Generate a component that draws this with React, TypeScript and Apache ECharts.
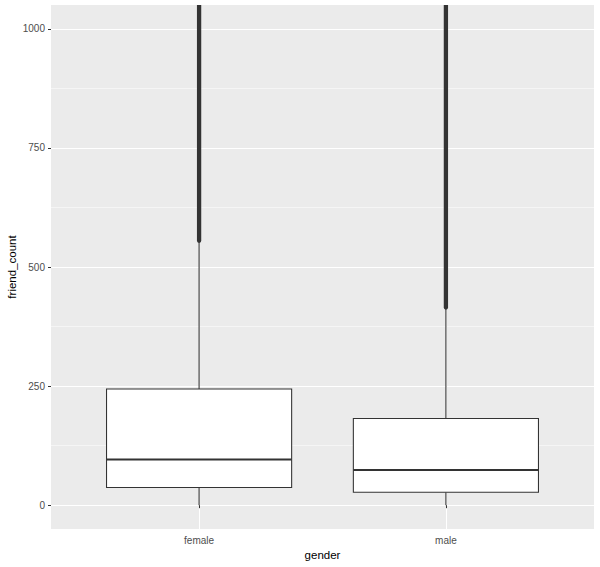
import React, { useEffect, useRef } from "react";
import * as echarts from "echarts";

// Categories and box statistics
const categories = ["female", "male"];
const lowerWhisker = [0, 0];
const q1 = [37, 27];
const median = [96, 74];
const q3 = [244, 182];
const upperWhisker = [554, 414];
// Outliers are dense (every value), drawn as a continuous run
const outlierMin = [555, 415];
const outlierMax = [4923, 4917];

const yMajorTicks = [0, 250, 500, 750, 1000];
const yMinorTicks = [125, 375, 625, 875];
const yMin = -50;
const yMax = 1050;

const FONT = "'Liberation Sans', Arial, sans-serif";

export default function App() {
  const ref = useRef<HTMLDivElement>(null);
  useEffect(() => {
    if (!ref.current) return;
    const chart = echarts.init(ref.current, null, { renderer: "svg" });

    const boxData = categories.map((_, i) => [
      i + 1,
      lowerWhisker[i],
      q1[i],
      median[i],
      q3[i],
      upperWhisker[i],
    ]);
    const outData = categories.map((_, i) => [i + 1, outlierMin[i], outlierMax[i]]);

    const option: any = {
      animation: false,
      backgroundColor: "#FFFFFF",
      grid: {
        left: 51,
        right: 6,
        top: 5,
        bottom: 38,
        containLabel: false,
        outerBoundsMode: "none",
        show: true,
        backgroundColor: "#EBEBEB",
        borderWidth: 0,
      },
      xAxis: {
        type: "value",
        min: 0.4,
        max: 2.6,
        name: "gender",
        nameLocation: "middle",
        nameGap: 20,
        nameMoveOverlap: false,
        nameTextStyle: { color: "#000000", fontSize: 11.5, fontFamily: FONT },
        axisLine: { show: false },
        axisTick: {
          show: true,
          customValues: [1, 2],
          length: 3,
          lineStyle: { color: "#333333", width: 1 },
        },
        axisLabel: {
          customValues: [1, 2],
          formatter: (v: number) => categories[Math.round(v) - 1] ?? "",
          color: "#4D4D4D",
          fontSize: 10,
          fontFamily: FONT,
          margin: 6,
        },
        splitLine: { show: true, lineStyle: { color: "#FFFFFF", width: 1.07 } },
      },
      yAxis: [
        {
          type: "value",
          min: yMin,
          max: yMax,
          name: "friend_count",
          nameLocation: "middle",
          nameGap: 33,
          nameMoveOverlap: false,
          nameTextStyle: { color: "#000000", fontSize: 11.5, fontFamily: FONT },
          axisLine: { show: false },
          axisTick: {
            show: true,
            customValues: yMajorTicks,
            length: 3,
            lineStyle: { color: "#333333", width: 1 },
          },
          axisLabel: {
            customValues: yMajorTicks,
            formatter: (v: number) => String(v),
            color: "#4D4D4D",
            fontSize: 10,
            fontFamily: FONT,
            margin: 6,
          },
          splitLine: { show: true, lineStyle: { color: "#FFFFFF", width: 1.07 } },
        },
        {
          type: "value",
          min: yMin,
          max: yMax,
          position: "left",
          axisLine: { show: false },
          axisTick: { show: false, customValues: yMinorTicks },
          axisLabel: { show: false, customValues: yMinorTicks },
          splitLine: { show: true, lineStyle: { color: "#FFFFFF", width: 0.53 } },
        },
      ],
      series: [
        {
          type: "custom",
          name: "outliers",
          clip: true,
          data: outData,
          encode: { x: 0, y: [1, 2] },
          renderItem: (params: any, api: any) => {
            const x = api.value(0);
            const p0 = api.coord([x, api.value(1)]);
            const p1 = api.coord([x, api.value(2)]);
            return {
              type: "line",
              shape: { x1: p0[0], y1: p0[1], x2: p1[0], y2: p1[1] },
              style: { stroke: "#333333", lineWidth: 4.3, lineCap: "round" },
            };
          },
          z: 2,
        },
        {
          type: "custom",
          name: "box",
          clip: true,
          data: boxData,
          encode: { x: 0, y: [1, 2, 3, 4, 5] },
          renderItem: (params: any, api: any) => {
            const x = api.value(0);
            const pLow = api.coord([x, api.value(1)]);
            const pQ1 = api.coord([x, api.value(2)]);
            const pMed = api.coord([x, api.value(3)]);
            const pQ3 = api.coord([x, api.value(4)]);
            const pHigh = api.coord([x, api.value(5)]);
            const halfW = api.size([0.75, 0])[0] / 2;
            const cx = pQ1[0];
            return {
              type: "group",
              children: [
                {
                  type: "line",
                  shape: { x1: cx, y1: pLow[1], x2: cx, y2: pQ1[1] },
                  style: { stroke: "#333333", lineWidth: 1.07 },
                },
                {
                  type: "line",
                  shape: { x1: cx, y1: pQ3[1], x2: cx, y2: pHigh[1] },
                  style: { stroke: "#333333", lineWidth: 1.07 },
                },
                {
                  type: "rect",
                  shape: {
                    x: cx - halfW,
                    y: pQ3[1],
                    width: halfW * 2,
                    height: pQ1[1] - pQ3[1],
                  },
                  style: { fill: "#FFFFFF", stroke: "#333333", lineWidth: 1.07 },
                },
                {
                  type: "line",
                  shape: { x1: cx - halfW, y1: pMed[1], x2: cx + halfW, y2: pMed[1] },
                  style: { stroke: "#333333", lineWidth: 2.1 },
                },
              ],
            };
          },
          z: 3,
        },
      ],
    };

    chart.setOption(option);
    return () => chart.dispose();
  }, []);

  return (
    <div
      ref={ref}
      style={{ position: "fixed", left: 0, top: 0, width: 600, height: 567 }}
    />
  );
}
